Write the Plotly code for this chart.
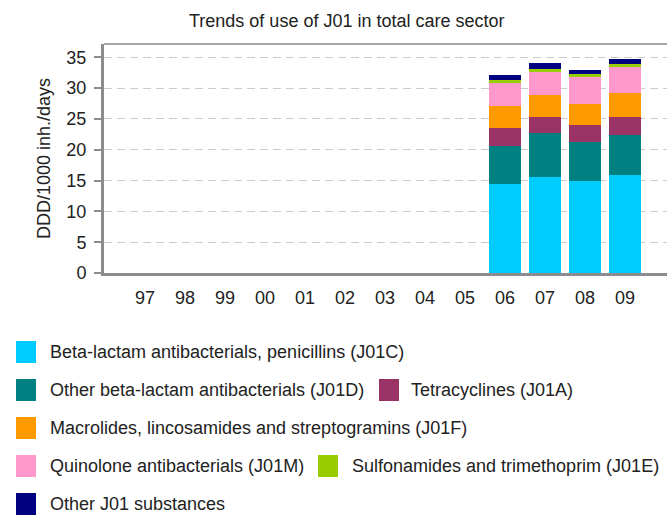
import plotly.graph_objects as go

years = ["97", "98", "99", "00", "01", "02", "03", "04", "05", "06", "07", "08", "09"]

series_names = [
    "Beta-lactam antibacterials, penicillins (J01C)",
    "Other beta-lactam antibacterials (J01D)",
    "Tetracyclines (J01A)",
    "Macrolides, lincosamides and streptogramins (J01F)",
    "Quinolone antibacterials (J01M)",
    "Sulfonamides and trimethoprim (J01E)",
    "Other J01 substances",
]
series_colors = ["#00CCFF", "#008080", "#993366", "#FF9900", "#FF99CC", "#99CC00", "#000080"]

# values for 06, 07, 08, 09 (earlier years have no data)
empty = [None] * 9
j01c = empty + [14.4, 15.6, 14.85, 15.85]
j01d = empty + [6.2, 7.05, 6.45, 6.55]
j01a = empty + [3.0, 2.6, 2.75, 2.85]
j01f = empty + [3.5, 3.6, 3.45, 4.0]
j01m = empty + [3.8, 3.8, 4.35, 4.2]
j01e = empty + [0.5, 0.4, 0.45, 0.4]
other = empty + [0.65, 1.0, 0.6, 0.8]
series_values = [j01c, j01d, j01a, j01f, j01m, j01e, other]

y_ticks = [0, 5, 10, 15, 20, 25, 30, 35]

FONT = "Liberation Sans, Arial, sans-serif"
FS = 18
TXT = "#222222"
W, H = 667, 516
L, R, T, B = 104, 0, 44, 243
PW = W - L - R
PH = H - T - B

def px_x(x):
    return (x - L) / PW

def px_y(y):
    return (H - B - y) / PH

fig = go.Figure()
for name, color, vals in zip(series_names, series_colors, series_values):
    fig.add_trace(go.Bar(x=years, y=vals, name=name, marker=dict(color=color, line=dict(width=0)),
                         showlegend=False))

shapes = []
annotations = []

# top frame line
shapes.append(dict(type="line", xref="paper", yref="paper", x0=0, x1=1, y0=1, y1=1,
                   line=dict(color="#a6a6a6", width=2)))

# manual legend layout: (series index, swatch left px, row centre px, text start px)
legend_layout = [
    (0, 16, 352, 48),
    (1, 16, 390, 48),
    (2, 379, 390, 409),
    (3, 16, 428, 48),
    (4, 16, 466, 48),
    (5, 318, 466, 350),
    (6, 16, 504, 48),
]
for idx, sx, cy, tx in legend_layout:
    shapes.append(dict(type="rect", xref="paper", yref="paper",
                       x0=px_x(sx), x1=px_x(sx + 20), y0=px_y(cy - 11), y1=px_y(cy + 11),
                       fillcolor=series_colors[idx], line=dict(width=0)))
    annotations.append(dict(xref="paper", yref="paper", x=px_x(tx), y=px_y(cy),
                            xanchor="left", yanchor="middle", showarrow=False,
                            text=series_names[idx], font=dict(family=FONT, size=FS, color=TXT)))

# title
annotations.append(dict(xref="paper", yref="paper", x=px_x(347), y=px_y(21), xanchor="center", yanchor="middle",
                        showarrow=False, text="Trends of use of J01 in total care sector",
                        font=dict(family=FONT, size=FS, color=TXT)))

fig.update_layout(
    width=W, height=H,
    margin=dict(l=L, r=R, t=T, b=B, pad=0),
    paper_bgcolor="white", plot_bgcolor="white",
    barmode="stack", bargap=0.2,
    showlegend=False,
    shapes=shapes, annotations=annotations,
    font=dict(family=FONT, size=FS, color=TXT),
)
fig.update_xaxes(type="category", range=[-1.025, 13.05], showline=True, linecolor="#8c8c8c", linewidth=3,
                 ticks="", showgrid=False, ticklabelstandoff=6,
                 tickfont=dict(family=FONT, size=FS, color=TXT))
fig.update_yaxes(range=[0, 37.16], tickvals=y_ticks, showline=True, linecolor="#8c8c8c", linewidth=3,
                 ticks="outside", ticklen=7, tickwidth=2, tickcolor="#8c8c8c",
                 showgrid=True, gridcolor="#cccccc", griddash="8px,5px", gridwidth=1,
                 zeroline=False, ticklabelstandoff=4,
                 title=dict(text="DDD/1000 inh./days", standoff=12, font=dict(family=FONT, size=FS, color=TXT)),
                 tickfont=dict(family=FONT, size=FS, color=TXT))

fig.write_html("out.html", config={"displayModeBar": False},
               post_script="document.body.style.margin='0px';document.body.style.padding='0px';")
